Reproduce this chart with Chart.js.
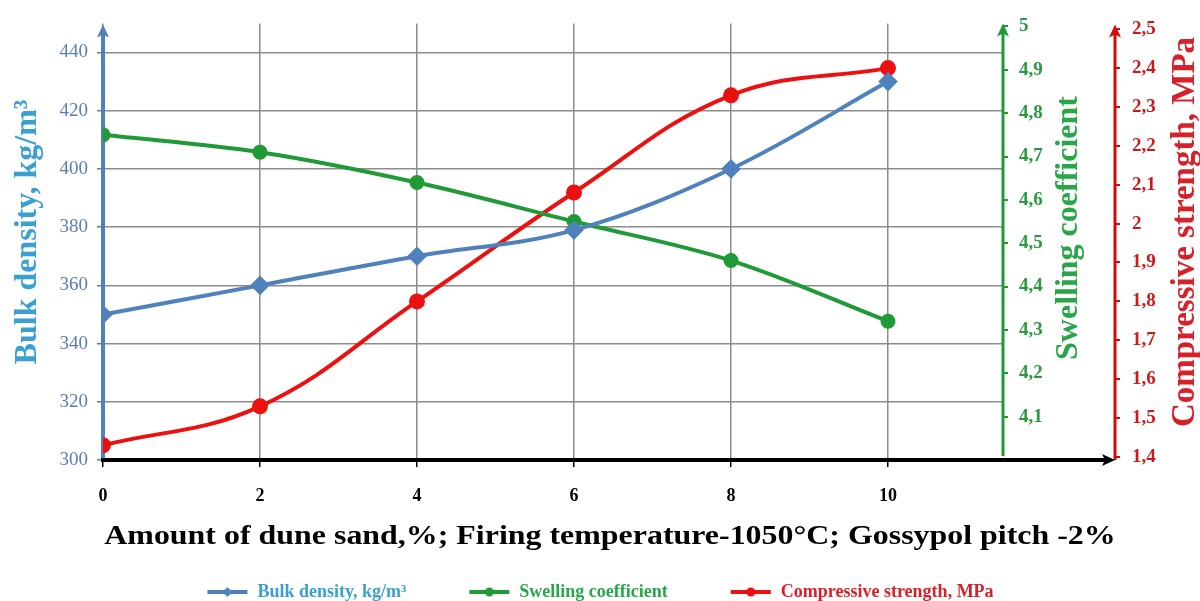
<!DOCTYPE html>
<html>
<head>
<meta charset="utf-8">
<script src="https://cdn.jsdelivr.net/npm/chart.js@4.4.1/dist/chart.umd.min.js"></script>
<style>
  body { margin: 0; background: #fff; }
  #wrap { width: 1200px; height: 601px; }
</style>
</head>
<body>
<div id="wrap"><canvas id="chart"></canvas></div>
<script>
// data
const sandAmount = [0, 2, 4, 6, 8, 10];
const bulkDensity = [350, 360, 370, 379, 400, 430];
const swelling = [4.75, 4.71, 4.64, 4.55, 4.46, 4.32];
const strength = [1.43, 1.53, 1.8, 2.08, 2.33, 2.4];

// tick labels
const xTicks = [0, 2, 4, 6, 8, 10];
const densityTicks = [300, 320, 340, 360, 380, 400, 420, 440];
const swellingTicks = [4.1, 4.2, 4.3, 4.4, 4.5, 4.6, 4.7, 4.8, 4.9, 5];
const strengthTicks = [1.4, 1.5, 1.6, 1.7, 1.8, 1.9, 2, 2.1, 2.2, 2.3, 2.4, 2.5];

const xTitle = "Amount of dune sand,%; Firing temperature-1050\u00B0C; Gossypol pitch -2%";
const densityTitle = "Bulk density, kg/m\u00B3";
const swellingTitle = "Swelling coefficient";
const strengthTitle = "Compressive strength, MPa";

const BLUE = "#4f81bd";
const GREEN = "#1f9a36";
const RED = "#ec1010";
const SERIF = "'Liberation Serif', 'DejaVu Serif', serif";

const toPoints = (ys) => sandAmount.map((x, i) => ({ x: x, y: ys[i] }));
const comma = (v) => (Number.isInteger(v) ? String(v) : v.toFixed(1).replace(".", ","));
const setTicks = (list) => (scale) => {
  scale.ticks = list.map((v) => ({ value: v }));
};

// legend marker: short line with the point on it
const makeMarker = (color, diamond) => {
  const c = document.createElement("canvas");
  c.width = 42;
  c.height = 14;
  const g = c.getContext("2d");
  g.strokeStyle = color;
  g.lineWidth = 4;
  g.beginPath();
  g.moveTo(1, 7);
  g.lineTo(41, 7);
  g.stroke();
  g.fillStyle = color;
  g.beginPath();
  if (diamond) {
    g.moveTo(21, 2);
    g.lineTo(26, 7);
    g.lineTo(21, 12);
    g.lineTo(16, 7);
  } else {
    g.arc(21, 7, 4.5, 0, Math.PI * 2);
  }
  g.fill();
  return c;
};

const arrowUp = (g, x, yTop, yBottom, color, w) => {
  g.strokeStyle = color;
  g.fillStyle = color;
  g.lineWidth = w;
  g.beginPath();
  g.moveTo(x, yBottom);
  g.lineTo(x, yTop + 8);
  g.stroke();
  g.beginPath();
  g.moveTo(x, yTop);
  g.lineTo(x - 6, yTop + 13);
  g.lineTo(x, yTop + 10);
  g.lineTo(x + 6, yTop + 13);
  g.closePath();
  g.fill();
};

const axesPlugin = {
  id: "axesPlugin",
  beforeDatasetsDraw(chart) {
    const g = chart.ctx;
    const a = chart.chartArea;
    const green = chart.scales.ySwell;
    const red = chart.scales.yStrength;
    g.save();
    arrowUp(g, a.left, a.top + 1, a.bottom + 2, BLUE, 4);
    arrowUp(g, green.left, a.top, a.bottom - 4, GREEN, 3);
    arrowUp(g, red.left, a.top + 1, a.bottom, "#d40a0a", 3);
    // x axis with arrow
    g.strokeStyle = "#000";
    g.fillStyle = "#000";
    g.lineWidth = 4;
    g.beginPath();
    g.moveTo(a.left - 2, a.bottom);
    g.lineTo(red.left - 8, a.bottom);
    g.stroke();
    g.beginPath();
    g.moveTo(red.left, a.bottom);
    g.lineTo(red.left - 13, a.bottom - 6);
    g.lineTo(red.left - 10, a.bottom);
    g.lineTo(red.left - 13, a.bottom + 6);
    g.closePath();
    g.fill();
    g.restore();
  },
  afterDraw(chart) {
    const g = chart.ctx;
    const green = chart.scales.ySwell;
    const red = chart.scales.yStrength;
    g.save();
    g.textAlign = "center";
    g.textBaseline = "middle";
    // x title, a bit wide like the picture
    g.save();
    g.translate(610, 537);
    g.scale(1.14, 1);
    g.font = "bold 28px " + SERIF;
    g.fillStyle = "#000";
    g.fillText(xTitle, 0, 0);
    g.restore();
    // y titles all read upwards
    const yTitle = (text, x, y, color) => {
      g.save();
      g.translate(x, y);
      g.rotate(-Math.PI / 2);
      g.fillStyle = color;
      g.fillText(text, 0, 0);
      g.restore();
    };
    g.font = "bold 32px " + SERIF;
    yTitle(densityTitle, 28, 232, "#3aa0d4");
    g.font = "bold 32px " + SERIF;
    yTitle(swellingTitle, green.left + 66, 228, "#2aa64a");
    g.font = "bold 33px " + SERIF;
    yTitle(strengthTitle, red.left + 70, 232, "#d8202a");
    g.restore();
  },
};

new Chart(document.querySelector("#chart"), {
  type: "line",
  data: {
    datasets: [
      {
        label: densityTitle,
        data: toPoints(bulkDensity),
        yAxisID: "yDensity",
        borderColor: BLUE,
        backgroundColor: BLUE,
        borderWidth: 4,
        pointStyle: "rectRot",
        pointRadius: 7,
        tension: 0.35,
      },
      {
        label: swellingTitle,
        data: toPoints(swelling),
        yAxisID: "ySwell",
        borderColor: GREEN,
        backgroundColor: GREEN,
        borderWidth: 4,
        pointRadius: 5.5,
        tension: 0.35,
      },
      {
        label: strengthTitle,
        data: toPoints(strength),
        yAxisID: "yStrength",
        borderColor: RED,
        backgroundColor: RED,
        borderWidth: 4,
        pointRadius: 6,
        tension: 0.4,
      },
    ],
  },
  options: {
    responsive: true,
    maintainAspectRatio: false,
    animation: false,
    layout: {
      padding: { top: 20, bottom: -10, left: 0, right: 0 },
    },
    plugins: {
      tooltip: { enabled: false },
      legend: {
        position: "bottom",
        labels: {
          usePointStyle: true,
          pointStyleWidth: 42,
          padding: 62,
          font: { family: SERIF, size: 18, weight: "bold" },
          generateLabels: () => [
            { text: densityTitle, fontColor: "#3aa0d4", pointStyle: makeMarker(BLUE, true), lineWidth: 0, strokeStyle: "rgba(0,0,0,0)", fillStyle: "rgba(0,0,0,0)", datasetIndex: 0 },
            { text: swellingTitle, fontColor: "#2aa64a", pointStyle: makeMarker(GREEN, false), lineWidth: 0, strokeStyle: "rgba(0,0,0,0)", fillStyle: "rgba(0,0,0,0)", datasetIndex: 1 },
            { text: strengthTitle, fontColor: "#d8202a", pointStyle: makeMarker(RED, false), lineWidth: 0, strokeStyle: "rgba(0,0,0,0)", fillStyle: "rgba(0,0,0,0)", datasetIndex: 2 },
          ],
        },
      },
    },
    scales: {
      x: {
        type: "linear",
        min: 0,
        max: 11.465,
        afterBuildTicks: setTicks(xTicks),
        afterFit: (scale) => {
          scale.height = 61;
        },
        border: { display: false },
        grid: { color: "#8c8c8c", lineWidth: 1.5, tickLength: 7, tickColor: "#000" },
        ticks: {
          padding: 19,
          color: "#000",
          font: { family: SERIF, size: 18, weight: "bold" },
        },
      },
      yDensity: {
        position: "left",
        min: 300,
        max: 450,
        afterBuildTicks: setTicks(densityTicks),
        afterFit: (scale) => {
          scale.width = 103;
        },
        border: { display: false },
        grid: { color: "#8c8c8c", lineWidth: 1.5, tickLength: 6, tickColor: BLUE },
        ticks: {
          padding: 9,
          color: "#5b7db8",
          font: { family: SERIF, size: 19 },
        },
      },
      ySwell: {
        position: "right",
        min: 4,
        max: 5.007,
        afterBuildTicks: setTicks(swellingTicks),
        afterFit: (scale) => {
          scale.width = 112;
        },
        border: { display: false },
        grid: { drawOnChartArea: false, tickLength: 5, tickColor: GREEN, lineWidth: 2 },
        ticks: {
          padding: 11,
          color: "#2a9a40",
          callback: (v) => comma(v),
          font: { family: SERIF, size: 19, weight: "bold" },
        },
      },
      yStrength: {
        position: "right",
        min: 1.392,
        max: 2.515,
        afterBuildTicks: setTicks(strengthTicks),
        afterFit: (scale) => {
          scale.width = 85;
        },
        border: { display: false },
        grid: { drawOnChartArea: false, tickLength: 5, tickColor: "#d40a0a", lineWidth: 2 },
        ticks: {
          padding: 12,
          color: "#cc1a1a",
          callback: (v) => comma(v),
          font: { family: SERIF, size: 19, weight: "bold" },
        },
      },
    },
  },
  plugins: [axesPlugin],
});
</script>
</body>
</html>
